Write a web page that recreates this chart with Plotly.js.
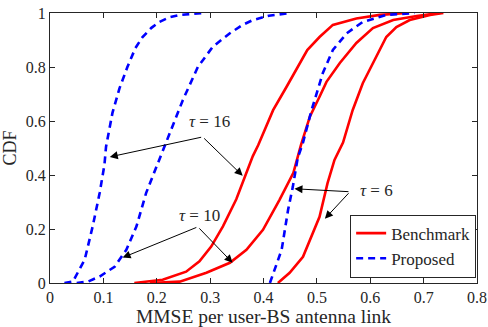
<!DOCTYPE html>
<html>
<head>
<meta charset="utf-8">
<script src="https://cdn.plot.ly/plotly-3.0.1.min.js"></script>
<style>html,body{margin:0;padding:0;background:#fff;}#plot{width:488px;height:327px;}</style>
</head>
<body>
<div id="plot"></div>
<script>
// Proposed (dashed blue)
const prop16X = [0.027,0.043,0.055,0.065,0.08,0.093,0.102,0.105,0.117,0.13,0.145,0.16,0.173,0.19,0.205,0.225,0.243,0.27,0.29];
const prop16Y = [0,0.005,0.05,0.086,0.21,0.333,0.438,0.505,0.63,0.72,0.80,0.87,0.91,0.945,0.967,0.985,0.993,0.998,1.0];
const prop10X = [0.05,0.071,0.093,0.121,0.143,0.162,0.18,0.199,0.224,0.249,0.277,0.305,0.337,0.36,0.38,0.41,0.45];
const prop10Y = [0,0.005,0.024,0.06,0.123,0.21,0.333,0.43,0.555,0.678,0.80,0.875,0.925,0.955,0.974,0.99,1.0];
const prop6X = [0.412,0.421,0.434,0.446,0.455,0.464,0.474,0.49,0.511,0.53,0.556,0.586,0.63,0.683];
const prop6Y = [0,0.049,0.123,0.27,0.357,0.462,0.52,0.64,0.777,0.863,0.925,0.967,0.993,1.0];
// Benchmark (solid red)
const bench16X = [0.158,0.211,0.255,0.28,0.302,0.324,0.349,0.364,0.38,0.39,0.418,0.443,0.462,0.482,0.505,0.53,0.574,0.618,0.668];
const bench16Y = [0,0.012,0.042,0.08,0.135,0.21,0.31,0.39,0.47,0.51,0.64,0.726,0.795,0.863,0.911,0.956,0.98,0.993,1.0];
const bench10X = [0.187,0.243,0.293,0.337,0.368,0.399,0.43,0.456,0.47,0.487,0.505,0.518,0.543,0.574,0.605,0.643,0.687,0.73];
const bench10Y = [0,0.005,0.038,0.075,0.123,0.197,0.308,0.408,0.51,0.617,0.69,0.745,0.815,0.889,0.944,0.974,0.989,1.0];
const bench6X = [0.427,0.449,0.474,0.49,0.505,0.52,0.533,0.549,0.567,0.586,0.599,0.611,0.63,0.649,0.674,0.712,0.737];
const bench6Y = [0,0.038,0.097,0.17,0.245,0.37,0.456,0.52,0.64,0.74,0.79,0.838,0.911,0.948,0.974,0.993,1.0];

const xTicks = [0,0.1,0.2,0.3,0.4,0.5,0.6,0.7,0.8];
const xTickText = ['0','0.1','0.2','0.3','0.4','0.5','0.6','0.7','0.8'];
const yTicks = [0,0.2,0.4,0.6,0.8,1];
const yTickText = ['0','0.2','0.4','0.6','0.8','1'];

const FONT = "'Liberation Serif', 'DejaVu Serif', serif";
const red = {color:'#ff0000', width:2.6};
const blue = {color:'#0000ff', width:2.6, dash:'7px,5px'};

const traces = [
  {x:bench16X, y:bench16Y, mode:'lines', line:red, name:'Benchmark', showlegend:true, legendgroup:'b'},
  {x:bench10X, y:bench10Y, mode:'lines', line:red, name:'Benchmark', showlegend:false, legendgroup:'b'},
  {x:bench6X, y:bench6Y, mode:'lines', line:red, name:'Benchmark', showlegend:false, legendgroup:'b'},
  {x:prop16X, y:prop16Y, mode:'lines', line:blue, name:'Proposed', showlegend:true, legendgroup:'p'},
  {x:prop10X, y:prop10Y, mode:'lines', line:blue, name:'Proposed', showlegend:false, legendgroup:'p'},
  {x:prop6X, y:prop6Y, mode:'lines', line:blue, name:'Proposed', showlegend:false, legendgroup:'p'}
];

function arrow(x0,y0,x1,y1){
  return {x:x1, y:y1, ax:x0, ay:y0, xref:'x', yref:'y', axref:'x', ayref:'y', text:'', showarrow:true,
    arrowhead:2, arrowsize:1.6, arrowwidth:1, arrowcolor:'#000', standoff:0, startstandoff:0};
}
function label(x,y,t){
  return {x:x, y:y, xref:'x', yref:'y', text:t, showarrow:false, font:{family:FONT, size:17, color:'#262626'}};
}

const annotations = [
  label(0.299,0.598,'<i>τ</i> = 16'),
  arrow(0.286,0.541,0.112,0.467),
  arrow(0.286,0.541,0.361,0.397),
  label(0.28,0.25,'<i>τ</i> = 10'),
  arrow(0.277,0.208,0.136,0.094),
  arrow(0.277,0.208,0.342,0.075),
  label(0.612,0.341,'<i>τ</i> = 6'),
  arrow(0.562,0.338,0.458,0.349),
  arrow(0.562,0.338,0.515,0.238)
];

const axisCommon = {
  showgrid:false, zeroline:false, showline:true, mirror:'ticks', linecolor:'#262626', linewidth:1,
  ticks:'inside', ticklen:5, tickwidth:1, tickcolor:'#262626',
  tickfont:{family:FONT, size:16, color:'#262626'}
};

const layout = {
  width:488, height:327,
  margin:{l:50, r:11, t:13, b:44},
  paper_bgcolor:'#fff', plot_bgcolor:'#fff',
  font:{family:FONT, color:'#262626'},
  xaxis:Object.assign({}, axisCommon, {range:[0,0.8], tickvals:xTicks, ticktext:xTickText,
    title:{text:'MMSE per user-BS antenna link', font:{family:FONT, size:19.5, color:'#262626'}, standoff:3}}),
  yaxis:Object.assign({}, axisCommon, {range:[0,1], tickvals:yTicks, ticktext:yTickText,
    title:{text:'CDF', font:{family:FONT, size:18, color:'#262626'}, standoff:6}}),
  legend:{x:0.998, xanchor:'right', y:0.02, yanchor:'bottom', bgcolor:'#fff', bordercolor:'#262626', borderwidth:1,
    font:{family:FONT, size:17, color:'#262626'}, tracegroupgap:0},
  annotations:annotations,
  showlegend:true
};

Plotly.newPlot('plot', traces, layout, {staticPlot:true, displayModeBar:false});
</script>
</body>
</html>
